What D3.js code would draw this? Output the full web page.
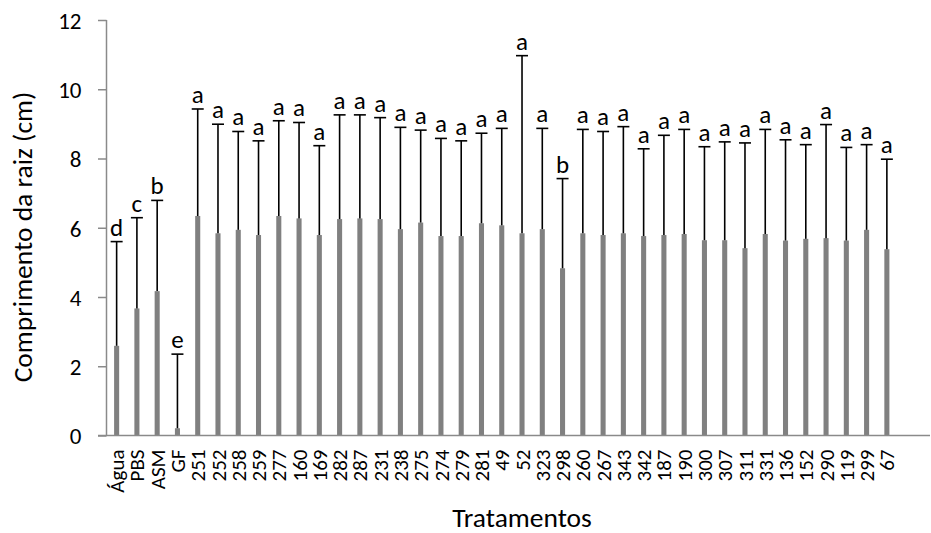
<!DOCTYPE html>
<html>
<head>
<meta charset="utf-8">
<script src="https://cdn.jsdelivr.net/npm/d3@7"></script>
<style>
  html, body { margin: 0; padding: 0; background: #fff; }
  svg { display: block; }
  text { font-family: Carlito, Calibri, Lato, sans-serif; fill: #000; }
</style>
</head>
<body>
<svg id="chart" width="931" height="533"></svg>
<script>
// Treatments and mean root length (cm)
const tratamentos = ["Água","PBS","ASM","GF","251","252","258","259","277","160","169","282","287","231","238","275","274","279","281","49","52","323","298","260","267","343","342","187","190","300","307","311","331","136","152","290","119","299","67"];
const medias = [2.59,3.67,4.17,0.21,6.34,5.84,5.94,5.79,6.34,6.27,5.79,6.25,6.27,6.25,5.96,6.15,5.76,5.76,6.13,6.07,5.84,5.96,4.83,5.84,5.79,5.84,5.76,5.79,5.82,5.64,5.64,5.41,5.82,5.63,5.68,5.70,5.63,5.94,5.38];
// Upper end of each error bar (mean + standard deviation)
const limiteSuperior = [5.60,6.29,6.79,2.35,9.43,8.99,8.78,8.51,9.09,9.04,8.37,9.26,9.26,9.18,8.90,8.82,8.58,8.51,8.73,8.87,10.97,8.87,7.42,8.84,8.78,8.92,8.28,8.67,8.84,8.34,8.48,8.45,8.84,8.54,8.40,8.98,8.32,8.40,7.98];
// Significance letters
const letras = ["d","c","b","e","a","a","a","a","a","a","a","a","a","a","a","a","a","a","a","a","a","a","b","a","a","a","a","a","a","a","a","a","a","a","a","a","a","a","a"];
const yTicks = [0,2,4,6,8,10,12];

const svg = d3.select("#chart");
const mLeft = 106.5, mRight = 897, mTop = 20, mBottom = 435.5, axisEnd = 930;
const axisColor = "#8a8a8a";
const fontFam = "Carlito, Calibri, Lato, sans-serif";

const x = d3.scaleBand().domain(tratamentos).range([mLeft, mRight]).padding(0);
const y = d3.scaleLinear().domain([0, 12]).range([mBottom, mTop]);
const barW = x.bandwidth() * 0.25;

const data = tratamentos.map((t, i) => ({ t, m: medias[i], up: limiteSuperior[i], l: letras[i] }));

// Bars
svg.append("g").selectAll("rect").data(data).join("rect")
  .attr("x", d => x(d.t) + x.bandwidth() / 2 - barW / 2)
  .attr("y", d => y(d.m))
  .attr("width", barW)
  .attr("height", d => y(0) - y(d.m))
  .attr("fill", "#808080");

// Error bars (upper only)
const eb = svg.append("g").attr("stroke", "#000").attr("stroke-width", 1.6);
eb.selectAll("line.v").data(data).join("line").attr("class", "v")
  .attr("x1", d => x(d.t) + x.bandwidth() / 2).attr("x2", d => x(d.t) + x.bandwidth() / 2)
  .attr("y1", d => y(d.m)).attr("y2", d => y(d.up));
eb.selectAll("line.c").data(data).join("line").attr("class", "c")
  .attr("x1", d => x(d.t) + x.bandwidth() / 2 - 6).attr("x2", d => x(d.t) + x.bandwidth() / 2 + 6)
  .attr("y1", d => y(d.up)).attr("y2", d => y(d.up));

// Letters
svg.append("g").selectAll("text").data(data).join("text")
  .attr("x", d => x(d.t) + x.bandwidth() / 2)
  .attr("y", d => y(d.up) - 6)
  .attr("text-anchor", "middle")
  .style("font-size", "25px")
  .text(d => d.l);

// Y axis
const yAxis = svg.append("g").attr("transform", `translate(${mLeft},0)`)
  .call(d3.axisLeft(y).tickValues(yTicks).tickSize(8.5).tickPadding(0).tickFormat(d3.format("d")));
yAxis.select(".domain").attr("stroke", axisColor).attr("stroke-width", 1.5).attr("d", `M0,${mTop}V${mBottom}`);
yAxis.selectAll(".tick line").attr("stroke", axisColor).attr("stroke-width", 1.5);
yAxis.selectAll(".tick text").attr("x", -25).attr("dy", "0.36em")
  .style("font-size", "23px").style("font-family", fontFam).attr("fill", "#000");

// X axis
const xAxis = svg.append("g").attr("transform", `translate(0,${mBottom})`)
  .call(d3.axisBottom(x).tickSize(0).tickPadding(0));
xAxis.select(".domain").attr("stroke", axisColor).attr("stroke-width", 1.5).attr("d", `M${mLeft - 8.5},0H${axisEnd}`);
xAxis.selectAll(".tick text")
  .attr("transform", "rotate(-90)")
  .attr("x", -14).attr("y", 0).attr("dy", "0.36em")
  .attr("text-anchor", "end")
  .style("font-size", "21px").style("font-family", fontFam).attr("fill", "#000");

// Axis titles
svg.append("text")
  .attr("transform", "translate(31.5,237) rotate(-90)")
  .attr("text-anchor", "middle")
  .style("font-size", "27.5px")
  .text("Comprimento da raiz (cm)");
svg.append("text")
  .attr("x", 522).attr("y", 527)
  .attr("text-anchor", "middle")
  .style("font-size", "27.5px")
  .text("Tratamentos");
</script>
</body>
</html>
